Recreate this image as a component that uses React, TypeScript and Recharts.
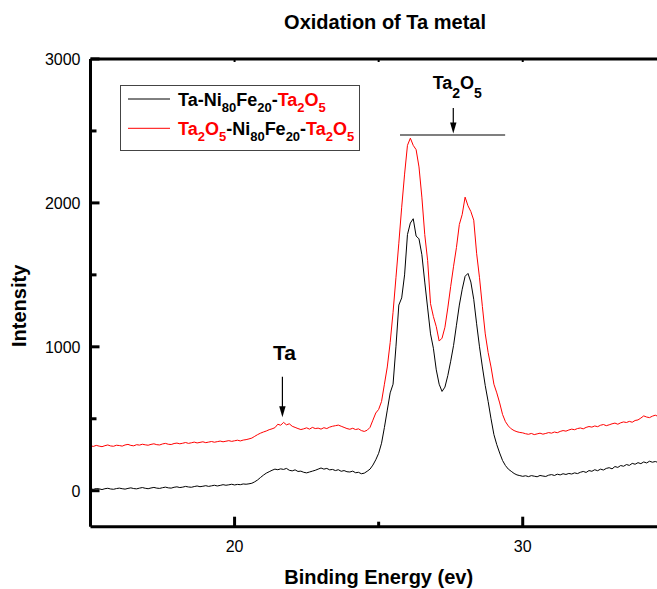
import React from 'react';
import { LineChart, Line, XAxis, YAxis, ReferenceLine, Legend } from 'recharts';

const FONT = "'Liberation Sans', Arial, Helvetica, sans-serif";

// Binding energy grid (eV)
const energy = [
  15.0, 15.1, 15.2, 15.3, 15.4, 15.5, 15.6, 15.7, 15.8, 15.9,
  16.0, 16.1, 16.2, 16.3, 16.4, 16.5, 16.6, 16.7, 16.8, 16.9,
  17.0, 17.1, 17.2, 17.3, 17.4, 17.5, 17.6, 17.7, 17.8, 17.9,
  18.0, 18.1, 18.2, 18.3, 18.4, 18.5, 18.6, 18.7, 18.8, 18.9,
  19.0, 19.1, 19.2, 19.3, 19.4, 19.5, 19.6, 19.7, 19.8, 19.9,
  20.0, 20.1, 20.2, 20.3, 20.4, 20.5, 20.6, 20.7, 20.8, 20.9,
  21.0, 21.1, 21.2, 21.3, 21.4, 21.5, 21.6, 21.7, 21.8, 21.9,
  22.0, 22.1, 22.2, 22.3, 22.4, 22.5, 22.6, 22.7, 22.8, 22.9,
  23.0, 23.1, 23.2, 23.3, 23.4, 23.5, 23.6, 23.7, 23.8, 23.9,
  24.0, 24.1, 24.2, 24.3, 24.4, 24.5, 24.6, 24.7, 24.8, 24.9,
  25.0, 25.1, 25.2, 25.3, 25.4, 25.5, 25.6, 25.7, 25.8, 25.9,
  26.0, 26.1, 26.2, 26.3, 26.4, 26.5, 26.6, 26.7, 26.8, 26.9,
  27.0, 27.1, 27.2, 27.3, 27.4, 27.5, 27.6, 27.7, 27.8, 27.9,
  28.0, 28.1, 28.2, 28.3, 28.4, 28.5, 28.6, 28.7, 28.8, 28.9,
  29.0, 29.1, 29.2, 29.3, 29.4, 29.5, 29.6, 29.7, 29.8, 29.9,
  30.0, 30.1, 30.2, 30.3, 30.4, 30.5, 30.6, 30.7, 30.8, 30.9,
  31.0, 31.1, 31.2, 31.3, 31.4, 31.5, 31.6, 31.7, 31.8, 31.9,
  32.0, 32.1, 32.2, 32.3, 32.4, 32.5, 32.6, 32.7, 32.8, 32.9,
  33.0, 33.1, 33.2, 33.3, 33.4, 33.5, 33.6, 33.7, 33.8, 33.9,
  34.0, 34.1, 34.2, 34.3, 34.4, 34.5, 34.6, 34.7, 34.8, 34.9,
  35.0,
];

// Ta-Ni80Fe20-Ta2O5 (black)
const taNiFeTa2O5 = [
  12, 10, 15, 13, 8, 14, 17, 12, 10, 15,
  18, 14, 11, 16, 20, 15, 13, 18, 22, 17,
  14, 19, 23, 18, 16, 21, 25, 20, 18, 24,
  27, 22, 25, 30, 26, 24, 29, 33, 28, 31,
  35, 30, 34, 38, 33, 37, 42, 38, 41, 45,
  40, 44, 42, 47, 45, 48, 52, 62, 75, 92,
  108, 122, 132, 142, 150, 146, 152, 148, 155, 142,
  138, 145, 134, 136, 128, 124, 130, 136, 142, 150,
  158, 150, 155, 145, 148, 140, 146, 135, 140, 132,
  130, 136, 125, 128, 118, 122, 135, 150, 178, 215,
  260, 330, 440, 560, 680, 740, 1000, 1290, 1340, 1500,
  1780, 1860, 1890, 1770, 1750, 1640, 1450, 1270, 1090, 990,
  840, 740, 690, 720, 800, 900, 1010, 1150, 1290, 1400,
  1490, 1510, 1450, 1330, 1160, 1000, 860, 730, 620, 500,
  390, 320, 262, 210, 175, 150, 135, 120, 110, 105,
  100, 104, 98, 105, 101, 97, 106, 102, 99, 108,
  112, 106, 115, 110, 118, 113, 120, 116, 124, 119,
  128, 134, 127, 140, 135, 146, 139, 150, 144, 155,
  160, 152, 168, 162, 175, 170, 182, 176, 190, 184,
  195, 188, 200, 193, 205, 198, 203, 196, 208, 202,
  210,
];

// Ta2O5-Ni80Fe20-Ta2O5 (red)
const ta2O5NiFeTa2O5 = [
  312, 308, 315, 310, 306, 313, 318, 311, 309, 316,
  314, 310, 318, 322, 315, 312, 320, 317, 323, 319,
  316, 322, 326, 320, 318, 325, 329, 323, 321, 328,
  331, 326, 330, 335, 329, 333, 338, 332, 336, 340,
  334, 338, 342, 337, 341, 345, 340, 344, 348, 343,
  347, 351, 346, 352, 355, 360, 366, 378, 390, 400,
  408, 415, 424, 430, 438, 462, 455, 475, 458, 465,
  448, 440, 432, 425, 430, 437, 428, 440, 432, 435,
  428, 438, 432, 442, 448, 452, 456, 448, 440, 432,
  427, 434, 425, 430, 418, 412, 420, 440, 490, 540,
  565, 620, 740, 860, 1030, 1240, 1480, 1720, 1970, 2200,
  2400, 2450, 2400, 2370, 2250, 2040, 1780, 1600, 1300, 1210,
  1140, 1040, 1060, 1136, 1270, 1420, 1560, 1690, 1850, 1920,
  2040, 1980, 1940, 1880, 1650, 1480, 1280, 1090, 960, 860,
  740, 680, 610, 530, 480, 450, 430, 418, 410, 405,
  402, 396, 392, 398, 390, 395, 400, 393, 398, 404,
  400, 408, 403, 412, 418, 414, 422, 428, 424, 432,
  436, 430, 440, 446, 442, 450, 445, 455, 460, 452,
  458, 465, 470, 462, 472, 478, 474, 482, 476, 488,
  492, 505, 520, 512, 508, 518, 525, 516, 522, 528,
  520,
];

const xTicks = [20, 25, 30];
const xTickLabels = [20, 30];
const yTicks = [0, 500, 1000, 1500, 2000, 2500, 3000];
const yTickLabels = [0, 1000, 2000, 3000];

const title = 'Oxidation of Ta metal';
const xTitle = 'Binding Energy (ev)';
const yTitle = 'Intensity';

// legend label segments: text, colour, subscript?
const legendBlack = [
  { t: 'Ta-Ni', c: '#000' }, { t: '80', c: '#000', s: true }, { t: 'Fe', c: '#000' },
  { t: '20', c: '#000', s: true }, { t: '-', c: '#000' }, { t: 'Ta', c: '#ff0000' },
  { t: '2', c: '#ff0000', s: true }, { t: 'O', c: '#ff0000' }, { t: '5', c: '#ff0000', s: true },
];
const legendRed = [
  { t: 'Ta', c: '#ff0000' }, { t: '2', c: '#ff0000', s: true }, { t: 'O', c: '#ff0000' },
  { t: '5', c: '#ff0000', s: true }, { t: '-Ni', c: '#000' }, { t: '80', c: '#000', s: true },
  { t: 'Fe', c: '#000' }, { t: '20', c: '#000', s: true }, { t: '-', c: '#000' },
  { t: 'Ta', c: '#ff0000' }, { t: '2', c: '#ff0000', s: true }, { t: 'O', c: '#ff0000' },
  { t: '5', c: '#ff0000', s: true },
];
const series = [
  { key: 'black', color: '#000000', label: legendBlack },
  { key: 'red', color: '#ff0000', label: legendRed },
];

// annotations (data coordinates)
const ta2o5Bar = { x1: 25.74, x2: 29.39, y: 2472 };
const ta2o5Arrow = { x: 27.59, yFrom: 2660, yTo: 2482 };
const taArrow = { x: 21.66, yFrom: 792, yTo: 510 };
const ta2o5Text = [{ t: 'Ta' }, { t: '2', s: true }, { t: 'O' }, { t: '5', s: true }];
const taText = [{ t: 'Ta' }];

const data = energy.map((e, i) => ({ energy: e, black: taNiFeTa2O5[i], red: ta2O5NiFeTa2O5[i] }));

const renderSegs = (segs: any[], size: number, subSize: number, shift: number) => {
  let inSub = false;
  return segs.map((sg, i) => {
    let dy = 0;
    if (sg.s && !inSub) { dy = shift; inSub = true; }
    else if (!sg.s && inSub) { dy = -shift; inSub = false; }
    return (
      <tspan key={i} dy={dy} fontSize={sg.s ? subSize : size} fill={sg.c || '#000'}>{sg.t}</tspan>
    );
  });
};

const BottomTick = (props: any) => {
  const { x, y, payload } = props;
  const major = xTickLabels.includes(payload.value);
  return (
    <g>
      <line x1={x} x2={x} y1={y} y2={y - (major ? 10 : 5)} stroke="#000" strokeWidth={3} />
      {major && (
        <text x={x} y={y + 25} textAnchor="middle" fontSize={16} fontFamily={FONT} fill="#000">
          {payload.value}
        </text>
      )}
    </g>
  );
};

const TopTick = (props: any) => {
  const { x, y } = props;
  return <line x1={x} x2={x} y1={y} y2={y + 3} stroke="#000" strokeWidth={2} />;
};

const LeftTick = (props: any) => {
  const { x, y, payload } = props;
  const major = yTickLabels.includes(payload.value);
  return (
    <g>
      <line x1={x} x2={x + (major ? 9 : 6)} y1={y} y2={y} stroke="#000" strokeWidth={3} />
      {major && (
        <text x={x - 10} y={y + 6} textAnchor="end" fontSize={16} fontFamily={FONT} fill="#000">
          {payload.value}
        </text>
      )}
    </g>
  );
};

const makeArrow = (segs: any[], size: number, dx: number, lift: number) => (p: any) => {
  const { x1, y1, x2, y2 } = p;
  return (
    <g>
      <line x1={x1} y1={y1} x2={x2} y2={y2 - 8} stroke="#000" strokeWidth={1.2} />
      <polygon points={`${x2 - 3.2},${y2 - 11} ${x2 + 3.2},${y2 - 11} ${x2},${y2}`} fill="#000" />
      <text x={x1 + dx} y={y1 - lift} textAnchor="middle" fontFamily={FONT} fontWeight="bold" fontSize={size} fill="#000">
        {renderSegs(segs, size, 14, 9)}
      </text>
    </g>
  );
};

const LegendBox = () => (
  <svg width={241} height={67} style={{ display: 'block' }}>
    <rect x={0.5} y={0.5} width={239} height={65} fill="#fff" stroke="#444" strokeWidth={1} />
    {series.map((s, i) => {
      const ly = i === 0 ? 14 : 43.3;
      return (
        <g key={s.key}>
          <line x1={8} x2={50} y1={ly} y2={ly} stroke={s.color} strokeWidth={1} />
          <text x={58} y={ly + 6.5} fontFamily={FONT} fontWeight="bold" fontSize={18}>
            {renderSegs(s.label, 18, 13, 6.5)}
          </text>
        </g>
      );
    })}
  </svg>
);

export default function App() {
  return (
    <div style={{ position: 'absolute', left: 0, top: 0, width: 657, height: 589, overflow: 'hidden', background: '#fff' }}>
      <LineChart width={700} height={589} data={data} margin={{ top: 54, right: 33.2, bottom: 22.3, left: 30.5 }}>
        <XAxis
          dataKey="energy"
          type="number"
          domain={[15, 35]}
          ticks={xTicks}
          interval={0}
          height={40}
          tickSize={0}
          tickMargin={0}
          tickLine={false}
          axisLine={{ stroke: '#000', strokeWidth: 3 }}
          tick={<BottomTick />}
          label={{
            content: (p: any) => {
              const vb = p.viewBox;
              return (
                <text x={vb.x + vb.width / 2} y={vb.y + 57} textAnchor="middle" fontFamily={FONT} fontWeight="bold" fontSize={20} fill="#000">
                  {xTitle}
                </text>
              );
            },
          }}
        />
        <XAxis
          xAxisId="top"
          orientation="top"
          dataKey="energy"
          type="number"
          domain={[15, 35]}
          ticks={xTicks}
          interval={0}
          height={5}
          tickSize={0}
          tickMargin={0}
          tickLine={false}
          axisLine={{ stroke: '#000', strokeWidth: 3 }}
          tick={<TopTick />}
          label={{
            content: (p: any) => {
              const vb = p.viewBox;
              return (
                <text x={vb.x + vb.width / 2 + 6.4} y={vb.y - 25.5} textAnchor="middle" fontFamily={FONT} fontWeight="bold" fontSize={20} fill="#000">
                  {title}
                </text>
              );
            },
          }}
        />
        <YAxis
          type="number"
          domain={[-250, 3000]}
          ticks={yTicks}
          interval={0}
          width={60}
          tickSize={0}
          tickMargin={0}
          tickLine={false}
          axisLine={{ stroke: '#000', strokeWidth: 3 }}
          tick={<LeftTick />}
          label={{
            content: (p: any) => {
              const vb = p.viewBox;
              const cx = vb.x - 4.5;
              const cy = vb.y + vb.height / 2 + 13;
              return (
                <text x={cx} y={cy} transform={`rotate(-90, ${cx}, ${cy})`} textAnchor="middle" fontFamily={FONT} fontWeight="bold" fontSize={20} fill="#000">
                  {yTitle}
                </text>
              );
            },
          }}
        />
        <Legend
          layout="vertical"
          align="center"
          verticalAlign="middle"
          wrapperStyle={{ position: 'absolute', left: 120, top: 85, width: 241, height: 67 }}
          content={() => <LegendBox />}
        />
        {series.map((s) => (
          <Line key={s.key} dataKey={s.key} type="linear" stroke={s.color} strokeWidth={1} dot={false} isAnimationActive={false} />
        ))}
        <ReferenceLine
          segment={[{ x: ta2o5Bar.x1, y: ta2o5Bar.y }, { x: ta2o5Bar.x2, y: ta2o5Bar.y }]}
          stroke="#000"
          strokeWidth={1.2}
        />
        <ReferenceLine
          segment={[{ x: ta2o5Arrow.x, y: ta2o5Arrow.yFrom }, { x: ta2o5Arrow.x, y: ta2o5Arrow.yTo }]}
          stroke="#000"
          shape={makeArrow(ta2o5Text, 18, 4, 19)}
        />
        <ReferenceLine
          segment={[{ x: taArrow.x, y: taArrow.yFrom }, { x: taArrow.x, y: taArrow.yTo }]}
          stroke="#000"
          shape={makeArrow(taText, 21, 2, 17)}
        />
      </LineChart>
    </div>
  );
}
